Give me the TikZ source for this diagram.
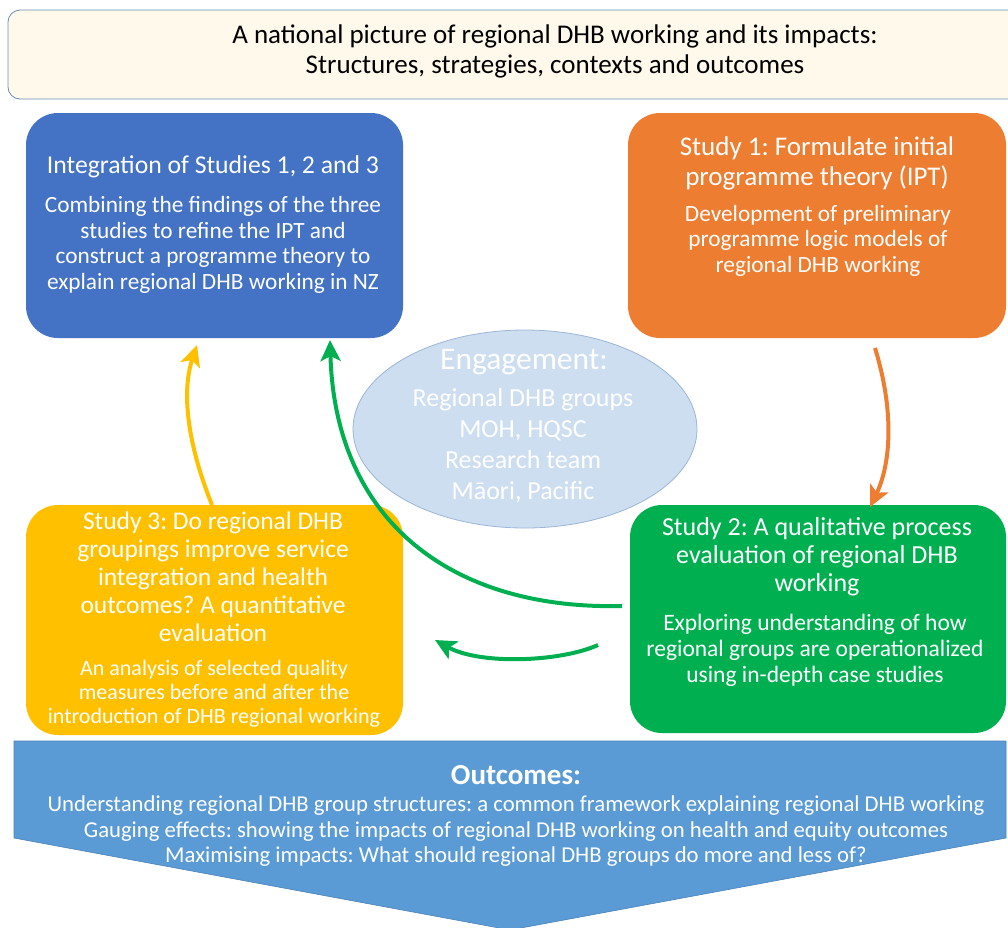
\documentclass[tikz,border=0pt]{standalone}
\usepackage{fontspec}
\setmainfont{Carlito}
\frenchspacing
\usetikzlibrary{arrows.meta}
\definecolor{cblue}{HTML}{4472C4}
\definecolor{corange}{HTML}{ED7D31}
\definecolor{cgreen}{HTML}{00B050}
\definecolor{cyellow}{HTML}{FFC000}
\definecolor{cell}{HTML}{CCDEF0}
\definecolor{cellb}{HTML}{9CB6D6}
\definecolor{cout}{HTML}{5B9BD5}
\definecolor{coutb}{HTML}{4A82B8}
\definecolor{ctop}{HTML}{FFF9EC}
\definecolor{ctopb}{HTML}{6A8DB5}
\begin{document}
\begin{tikzpicture}[x=1pt,y=-1pt,
  studybox/.style={rounded corners=32pt,draw=none},
  ttl/.style={text=white,align=center,font=\fontsize{25.7}{28.5}\selectfont,inner sep=0pt},
  bdy/.style={text=white,align=center,font=\fontsize{23.3}{25.5}\selectfont,inner sep=0pt},
  flow/.style={line width=4pt,-{Stealth[length=21pt,width=20pt,inset=5pt]}}]
\useasboundingbox (0,0) rectangle (1008,927);
% top box
\draw[fill=ctop,draw=ctopb,line width=0.8pt,rounded corners=12pt] (8,10) rectangle (1030,99);
\node[align=center,inner sep=0pt,font=\fontsize{27}{30}\selectfont] (toptxt) at (555,51) {A national picture of regional DHB working and its impacts:\\Structures, strategies, contexts and outcomes};
% boxes
\fill[cblue,studybox] (26,113) rectangle (403,338);
\node[coordinate] (bluebox) at (215,226) {};
\fill[corange,studybox] (628,113) rectangle (1006,338);
\node[coordinate] (orangebox) at (817,226) {};
\fill[cyellow,studybox] (26,505) rectangle (403,735);
\node[coordinate] (yellowbox) at (215,620) {};
\fill[cgreen,studybox] (630,505) rectangle (1006,733);
\node[coordinate] (greenbox) at (818,620) {};
% ellipse
\draw[fill=cell,draw=cellb,line width=0.8pt] (525,429) ellipse [x radius=172pt,y radius=99pt];
\node[coordinate] (ell) at (525,429) {};
% texts
\node[ttl] (bluet) at (213,167) {Integration of Studies 1, 2 and 3};
\node[bdy] (blueb) at (213,245) {Combining the findings of the three\\studies to refine the IPT and\\construct a programme theory to\\explain regional DHB working in NZ};
\node[ttl,font=\fontsize{27}{30}\selectfont] (oranget) at (817,163) {Study 1: Formulate initial\\programme theory (IPT)};
\node[bdy] (orangeb) at (818,240.5) {Development of preliminary\\programme logic models of\\regional DHB working};
\node[ttl,font=\fontsize{26}{28}\selectfont] (greent) at (817,557) {Study 2: A qualitative process\\evaluation of regional DHB\\working};
\node[bdy,font=\fontsize{23.5}{26}\selectfont] (greenb) at (815,650) {Exploring understanding of how\\regional groups are operationalized\\using in-depth case studies};
\node[ttl,font=\fontsize{25.5}{28}\selectfont] (yellowt) at (213,577) {Study 3: Do regional DHB\\groupings improve service\\integration and health\\outcomes? A quantitative\\evaluation};
\node[bdy,font=\fontsize{22}{24}\selectfont] (yellowb) at (214,694) {An analysis of selected quality\\measures before and after the\\introduction of DHB regional working};
\node[text=white,inner sep=0pt,font=\fontsize{31.5}{33}\selectfont] (engt) at (524,362) {Engagement:};
\node[text=white,align=center,inner sep=0pt,font=\fontsize{26}{31}\selectfont] (engb) at (523,445.5) {Regional DHB groups\\MOH, HQSC\\Research team\\Māori, Pacific};
% outcomes arrow
\draw[fill=cout,draw=coutb,line width=0.6pt] (14,741) -- (1006,741) -- (1006,838) -- (510,930) -- (14,838) -- cycle;
\node[coordinate] (outc) at (510,800) {};
\node[text=white,inner sep=0pt,font=\bfseries\fontsize{29}{30}\selectfont] (outt) at (516,775) {Outcomes:};
\node[text=white,align=center,inner sep=0pt,font=\fontsize{22.7}{25.5}\selectfont] (outb) at (516,831.5) {Understanding regional DHB group structures: a common framework explaining regional DHB working\\Gauging effects: showing the impacts of regional DHB working on health and equity outcomes\\Maximising impacts: What should regional DHB groups do more and less of?};
% connectors
\coordinate (o1) at (875,348);
\coordinate (o2) at (870,507);
\draw[flow,corange] (o1) .. controls (897,420) and (888,470) .. (o2);
\coordinate (y1) at (212,505);
\coordinate (y2) at (197,345);
\draw[flow,cyellow] (y1) .. controls (186,440) and (182,390) .. (y2);
\coordinate (g1) at (622,606);
\coordinate (g2) at (330,340);
\draw[flow,cgreen] (g1) .. controls (450,610) and (335,520) .. (g2);
\coordinate (h1) at (598,645);
\coordinate (h2) at (435,640);
\draw[flow,cgreen] (h1) .. controls (560,662) and (480,665) .. (h2);
\end{tikzpicture}
\end{document}
